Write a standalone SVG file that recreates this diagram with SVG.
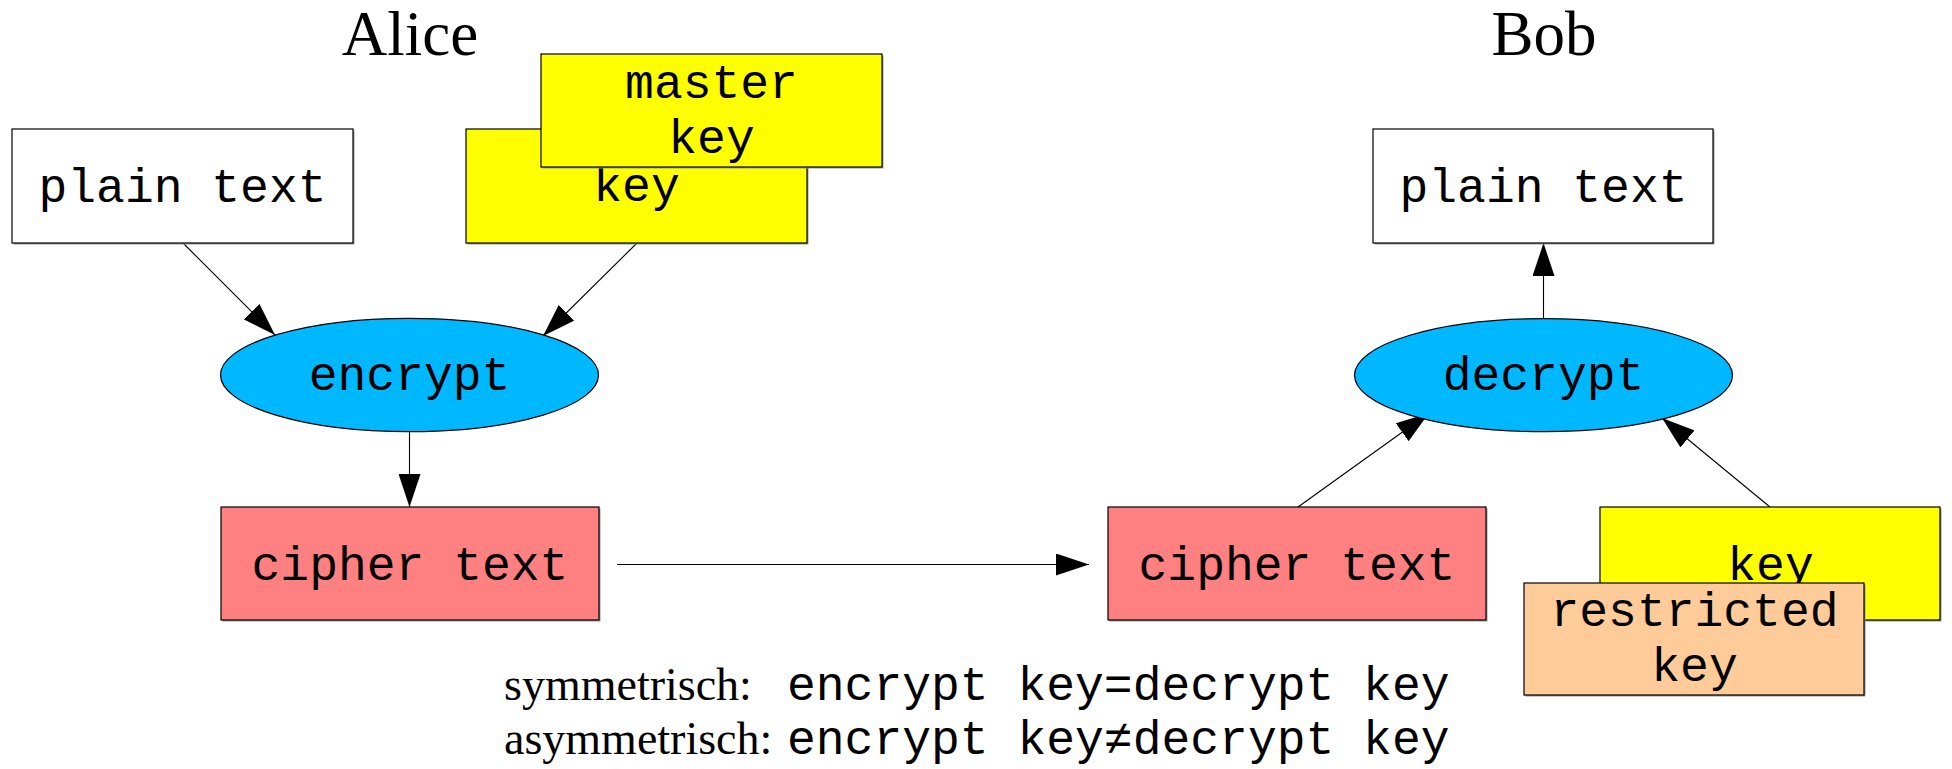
<svg xmlns="http://www.w3.org/2000/svg" width="1952" height="769" viewBox="0 0 1952 769">
  <style>
    .box { stroke: #000; stroke-width: 1.2; }
    .shadow { fill: #9a9a9a; }
    .plain { fill: #ffffff; }
    .key { fill: #ffff00; }
    .cipher { fill: #ff8080; }
    .restricted { fill: #ffcc99; }
    .op { fill: #00b8ff; stroke: #000; stroke-width: 1.2; }
    .mono { font-family: "Liberation Mono", "Courier New", monospace; font-size: 48px; fill: #000; }
    .lbl { text-anchor: middle; }
    .serif { font-family: "Liberation Serif", "Times New Roman", serif; fill: #000; }
    .edge { stroke: #000; stroke-width: 1.1; fill: none; marker-end: url(#head); }
  </style>
  <defs>
    <marker id="head" markerUnits="userSpaceOnUse" markerWidth="34" markerHeight="22" refX="33" refY="11" orient="auto">
      <path d="M0,0 L33,11 L0,22 z" fill="#000"/>
    </marker>
  </defs>

  <rect width="1952" height="769" fill="#ffffff"/>

  <!-- party headings -->
  <text class="serif" x="410" y="55" font-size="63" text-anchor="middle">Alice</text>
  <text class="serif" x="1544" y="55" font-size="63" text-anchor="middle">Bob</text>

  <!-- connectors -->
  <g id="connectors">
    <line class="edge" x1="183" y1="243" x2="275" y2="335"/>
    <line class="edge" x1="637" y1="243" x2="543" y2="336"/>
    <line class="edge" x1="409.5" y1="432" x2="409.5" y2="507"/>
    <line class="edge" x1="617" y1="564.5" x2="1089" y2="564.5"/>
    <line class="edge" x1="1543.5" y1="319" x2="1543.5" y2="243"/>
    <line class="edge" x1="1298" y1="507" x2="1429" y2="413"/>
    <line class="edge" x1="1770" y1="507" x2="1662" y2="418"/>
  </g>

  <!-- Alice side -->
  <g id="alice-plain">
    <rect class="shadow" x="13.5" y="130.5" width="341" height="114"/>
    <rect class="box plain" x="12" y="129" width="341" height="114"/>
    <text class="mono lbl" x="182.5" y="202">plain text</text>
  </g>
  <g id="alice-key">
    <rect class="shadow" x="467.5" y="130.5" width="341" height="114"/>
    <rect class="box key" x="466" y="129" width="341" height="114"/>
    <text class="mono lbl" x="636.5" y="201">key</text>
  </g>
  <g id="alice-master-key">
    <rect class="shadow" x="542.5" y="55.5" width="341" height="113"/>
    <rect class="box key" x="541" y="54" width="341" height="113"/>
    <text class="mono lbl" x="711.5" y="98">master</text>
    <text class="mono lbl" x="711.5" y="153">key</text>
  </g>
  <g id="encrypt">
    <ellipse class="op" cx="409.5" cy="375" rx="189" ry="56.7"/>
    <text class="mono lbl" x="409.5" y="390">encrypt</text>
  </g>
  <g id="alice-cipher">
    <rect class="shadow" x="222.5" y="508.5" width="378" height="113"/>
    <rect class="box cipher" x="221" y="507" width="378" height="113"/>
    <text class="mono lbl" x="410" y="580">cipher text</text>
  </g>

  <!-- Bob side -->
  <g id="bob-plain">
    <rect class="shadow" x="1374.5" y="130.5" width="340" height="114"/>
    <rect class="box plain" x="1373" y="129" width="340" height="114"/>
    <text class="mono lbl" x="1543.5" y="202">plain text</text>
  </g>
  <g id="decrypt">
    <ellipse class="op" cx="1543.5" cy="375.2" rx="189" ry="56.5"/>
    <text class="mono lbl" x="1543.5" y="390">decrypt</text>
  </g>
  <g id="bob-cipher">
    <rect class="shadow" x="1109.5" y="508.5" width="378" height="113"/>
    <rect class="box cipher" x="1108" y="507" width="378" height="113"/>
    <text class="mono lbl" x="1297" y="580">cipher text</text>
  </g>
  <g id="bob-key">
    <rect class="shadow" x="1601.5" y="508.5" width="340" height="113"/>
    <rect class="box key" x="1600" y="507" width="340" height="113"/>
    <text class="mono lbl" x="1770.5" y="580">key</text>
  </g>
  <g id="bob-restricted-key">
    <rect class="shadow" x="1525.5" y="584.5" width="340" height="112"/>
    <rect class="box restricted" x="1524" y="583" width="340" height="112"/>
    <text class="mono lbl" x="1694.5" y="626">restricted</text>
    <text class="mono lbl" x="1694.5" y="681">key</text>
  </g>

  <!-- legend -->
  <g id="legend">
    <text class="serif" x="504" y="700" font-size="46">symmetrisch:</text>
    <text class="mono" x="787" y="700">encrypt key=decrypt key</text>
    <text class="serif" x="504" y="754" font-size="46">asymmetrisch:</text>
    <text class="mono" x="787" y="754">encrypt key≠decrypt key</text>
  </g>
</svg>
